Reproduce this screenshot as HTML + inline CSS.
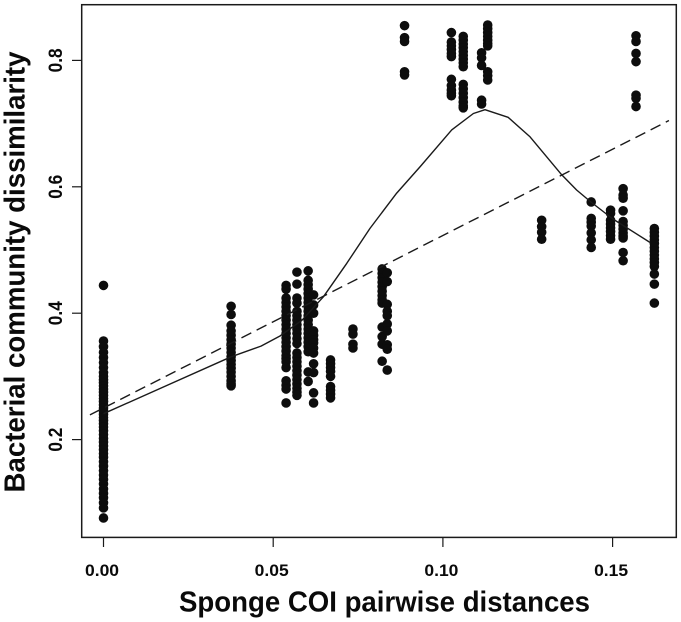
<!DOCTYPE html>
<html>
<head>
<meta charset="utf-8">
<title>Sponge COI distances vs bacterial community dissimilarity</title>
<style>
html,body{margin:0;padding:0;background:#fff;width:681px;height:622px;overflow:hidden}
svg{display:block}
text{font-family:"Liberation Sans",Arial,sans-serif;font-weight:bold;fill:#0a0a0a}
</style>
</head>
<body>
<svg id="chart" width="681" height="622" viewBox="0 0 681 622" xmlns="http://www.w3.org/2000/svg">
  <rect x="81.7" y="4.7" width="594.6" height="532.7" fill="none" stroke="#1a1a1a" stroke-width="1.5"/>
  <g id="points" fill="#0d0d0d"></g>
  <path id="loess" fill="none" stroke="#1a1a1a" stroke-width="1.4" stroke-linejoin="round"/>
  <line id="regression" stroke="#1a1a1a" stroke-width="1.4" stroke-dasharray="11 6"/>
  <g id="x-axis"></g>
  <g id="y-axis"></g>
  <text x="384.5" y="611.7" text-anchor="middle" font-size="28.5" textLength="411" lengthAdjust="spacingAndGlyphs">Sponge COI pairwise distances</text>
  <text transform="translate(24.5 272) rotate(-90)" text-anchor="middle" font-size="29" textLength="441" lengthAdjust="spacingAndGlyphs">Bacterial community dissimilarity</text>
</svg>
<script>
const xTicks = [0, 0.05, 0.10, 0.15];
const xTickLabels = ["0.00", "0.05", "0.10", "0.15"];
const yTicks = [0.2, 0.4, 0.6, 0.8];
const yTickLabels = ["0.2", "0.4", "0.6", "0.8"];

const distances = [0, 0.0376, 0.0538, 0.0570, 0.0603, 0.0619, 0.0669, 0.0735, 0.0821, 0.0836, 0.0887, 0.1025, 0.1060, 0.1114, 0.1132, 0.1291, 0.1437, 0.1494, 0.1531, 0.1569, 0.1623];

const dissimilarities = [
  [0.444,0.356,0.347,0.338,0.330,0.322,0.314,0.306,0.300,0.295,0.290,0.285,0.280,0.275,0.270,0.265,0.260,0.255,0.250,0.245,0.240,0.235,0.230,0.225,0.220,0.214,0.208,0.202,0.196,0.190,0.184,0.178,0.172,0.165,0.158,0.151,0.144,0.137,0.130,0.122,0.115,0.108,0.100,0.092,0.076],
  [0.411,0.398,0.381,0.372,0.365,0.358,0.351,0.345,0.338,0.331,0.325,0.319,0.313,0.307,0.300,0.293,0.288,0.285],
  [0.444,0.438,0.424,0.417,0.410,0.403,0.396,0.389,0.382,0.375,0.368,0.361,0.354,0.347,0.340,0.333,0.328,0.323,0.314,0.293,0.286,0.280,0.258],
  [0.465,0.446,0.424,0.416,0.403,0.396,0.389,0.382,0.375,0.368,0.360,0.352,0.337,0.330,0.323,0.316,0.309,0.302,0.295,0.288,0.281,0.275,0.270],
  [0.467,0.452,0.445,0.438,0.431,0.424,0.417,0.410,0.403,0.396,0.389,0.382,0.375,0.368,0.361,0.354,0.347,0.339,0.307,0.292],
  [0.429,0.413,0.400,0.372,0.365,0.358,0.353,0.345,0.337,0.320,0.306,0.274,0.258],
  [0.326,0.320,0.314,0.308,0.300,0.284,0.278,0.272,0.266],
  [0.375,0.367,0.351,0.345],
  [0.470,0.463,0.456,0.449,0.442,0.435,0.428,0.421,0.416,0.378,0.363,0.351,0.324],
  [0.464,0.450,0.414,0.403,0.396,0.383,0.372,0.350,0.343,0.310],
  [0.855,0.836,0.830,0.782,0.777],
  [0.844,0.829,0.823,0.817,0.811,0.806,0.770,0.760,0.753,0.748,0.744],
  [0.838,0.832,0.826,0.820,0.814,0.808,0.802,0.796,0.790,0.762,0.755,0.748,0.741,0.734,0.728,0.725],
  [0.812,0.804,0.792,0.737,0.731],
  [0.856,0.850,0.844,0.838,0.832,0.827,0.823,0.782,0.776,0.769],
  [0.547,0.537,0.528,0.517],
  [0.576,0.550,0.544,0.538,0.527,0.516,0.504],
  [0.563,0.558,0.547,0.541,0.535,0.529,0.523,0.517],
  [0.597,0.587,0.582,0.562,0.545,0.539,0.533,0.527,0.522,0.519,0.496,0.483],
  [0.839,0.830,0.811,0.798,0.745,0.740,0.727],
  [0.534,0.528,0.522,0.516,0.510,0.504,0.498,0.492,0.486,0.480,0.474,0.462,0.446,0.416]
];

const loessX = [0, 0.0376, 0.0464, 0.0520, 0.0585, 0.0648, 0.0717, 0.0785, 0.0864, 0.0933, 0.1026, 0.1090, 0.1124, 0.1192, 0.1257, 0.1350, 0.1394, 0.1436, 0.1501, 0.1610];
const loessY = [0.241, 0.331, 0.348, 0.364, 0.389, 0.426, 0.479, 0.534, 0.590, 0.632, 0.690, 0.716, 0.722, 0.710, 0.679, 0.619, 0.595, 0.576, 0.549, 0.512];

const regressionIntercept = [0.250];
const regressionSlope = [2.73];
const regressionRange = [-0.004, 0.1666];

function xScale(v) { return 103.5 + 3394 * v; }
function yScale(v) { return 439.6 - (v - 0.2) * 632; }

const NS = 'http://www.w3.org/2000/svg';
const pointsGroup = document.getElementById('points');
distances.forEach(function (d, i) {
  dissimilarities[i].forEach(function (v) {
    const c = document.createElementNS(NS, 'circle');
    
    
    c.setAttribute('cx', xScale(d));
    c.setAttribute('cy', yScale(v));
    c.setAttribute('r', 4.8);
    pointsGroup.appendChild(c);
  });
});

document.getElementById('loess').setAttribute('d', loessX.map(function (x, i) {
  return (i ? 'L' : 'M') + xScale(x).toFixed(1) + ' ' + yScale(loessY[i]).toFixed(1);
}).join(' '));

const reg = document.getElementById('regression');
reg.setAttribute('x1', xScale(regressionRange[0]));
reg.setAttribute('y1', yScale(regressionIntercept[0] + regressionSlope[0] * regressionRange[0]));
reg.setAttribute('x2', xScale(regressionRange[1]));
reg.setAttribute('y2', yScale(regressionIntercept[0] + regressionSlope[0] * regressionRange[1]));

const xAxis = document.getElementById('x-axis');
xTicks.forEach(function (t, i) {
  const l = document.createElementNS(NS, 'line');
  
  
  l.setAttribute('x1', xScale(t));
  l.setAttribute('x2', xScale(t));
  l.setAttribute('y1', 537.4);
  l.setAttribute('y2', 547);
  l.setAttribute('stroke', '#1a1a1a');
  l.setAttribute('stroke-width', '1.2');
  xAxis.appendChild(l);
  const s = document.createElementNS(NS, 'text');
  
  
  s.setAttribute('x', xScale(t) - 1.5);
  s.setAttribute('y', 576);
  s.setAttribute('text-anchor', 'middle');
  s.setAttribute('font-size', '17');
  s.setAttribute('textLength', '34');
  s.setAttribute('lengthAdjust', 'spacingAndGlyphs');
  s.textContent = xTickLabels[i];
  xAxis.appendChild(s);
});

const yAxis = document.getElementById('y-axis');
yTicks.forEach(function (t, i) {
  const l = document.createElementNS(NS, 'line');
  
  
  l.setAttribute('x1', 72);
  l.setAttribute('x2', 81.7);
  l.setAttribute('y1', yScale(t));
  l.setAttribute('y2', yScale(t));
  l.setAttribute('stroke', '#1a1a1a');
  l.setAttribute('stroke-width', '1.2');
  yAxis.appendChild(l);
  const s = document.createElementNS(NS, 'text');
  
  
  s.setAttribute('transform', 'translate(62 ' + yScale(t) + ') rotate(-90)');
  s.setAttribute('text-anchor', 'middle');
  s.setAttribute('font-size', '19.5');
  s.setAttribute('textLength', '24');
  s.setAttribute('lengthAdjust', 'spacingAndGlyphs');
  s.textContent = yTickLabels[i];
  yAxis.appendChild(s);
});
</script>
</body>
</html>
